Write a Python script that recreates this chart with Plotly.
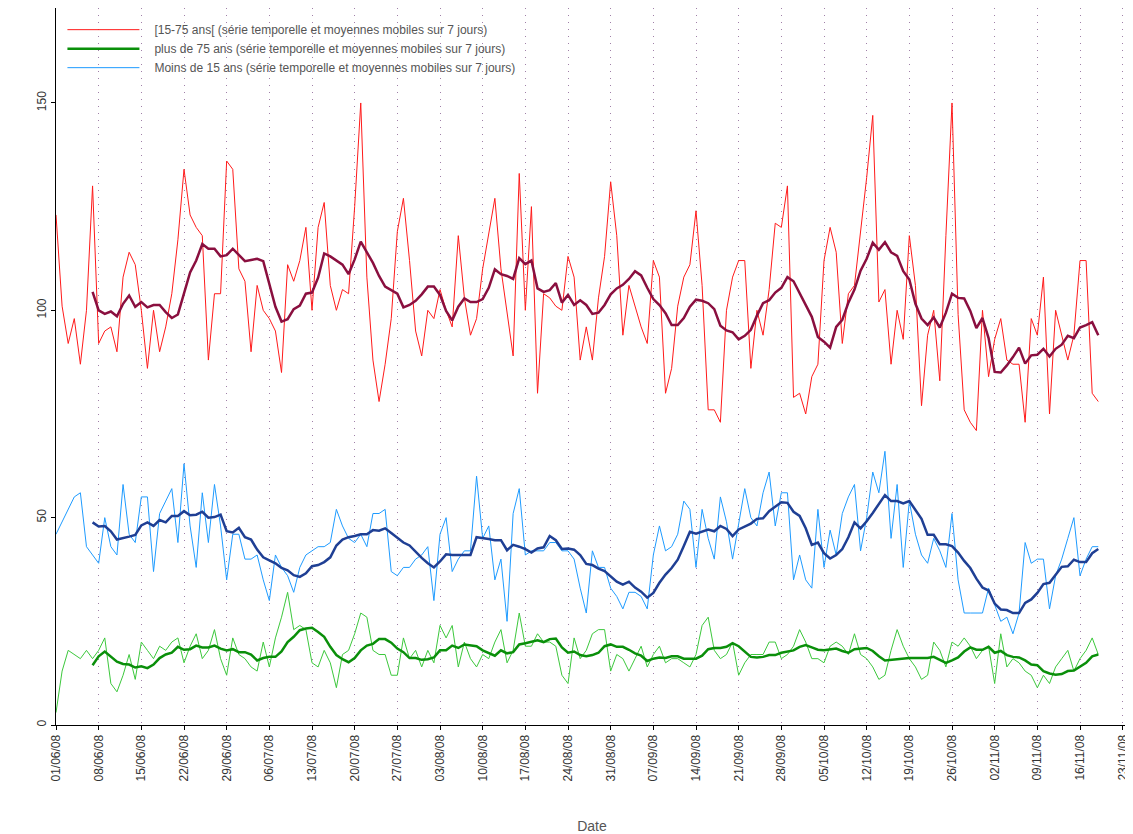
import plotly.graph_objects as go
import pandas as pd

# daily counts, 01/06/08 -> 19/11/08
ages_15_75 = [
    123, 101, 92, 98, 87, 100, 130, 92, 95, 96, 90, 108, 114, 111, 100, 86, 100, 90, 96, 104,
    117, 134, 123, 120, 118, 88, 104, 104, 136, 134, 110, 107, 90, 106, 100, 98, 95, 85, 111, 107,
    112, 120, 100, 120, 126, 106, 100, 105, 104, 125, 150, 108, 88, 78, 87, 98, 119, 127, 112, 95,
    89, 100, 98, 105, 100, 96, 118, 103, 94, 98, 110, 119, 127, 110, 100, 89, 133, 100, 125, 80,
    104, 103, 101, 100, 113, 108, 88, 96, 88, 103, 113, 131, 118, 94, 106, 101, 96, 92, 112, 108,
    80, 86, 101, 108, 111, 124, 106, 76, 76, 73, 100, 108, 112, 112, 86, 100, 94, 105, 121, 120,
    130, 79, 80, 75, 84, 87, 112, 120, 114, 92, 104, 106, 119, 132, 147, 102, 105, 87, 100, 93,
    118, 106, 77, 94, 100, 83, 118, 150, 99, 76, 73, 71, 100, 84, 93, 98, 88, 87, 87, 73,
    98, 94, 108, 75, 100, 94, 88, 94, 112, 112, 80, 78,
]

plus_75 = [
    3, 13, 18, 17, 16, 18, 16, 18, 21, 10, 8, 12, 17, 11, 20, 18, 16, 19, 18, 20,
    21, 15, 19, 22, 16, 18, 23, 16, 12, 21, 17, 16, 14, 13, 20, 14, 21, 26, 32, 23,
    24, 23, 15, 14, 18, 15, 9, 17, 18, 22, 27, 26, 18, 17, 17, 12, 12, 21, 16, 18,
    14, 18, 15, 24, 21, 24, 14, 20, 16, 14, 17, 16, 20, 23, 15, 18, 27, 19, 19, 22,
    20, 20, 19, 12, 10, 21, 16, 18, 22, 23, 23, 13, 17, 16, 13, 16, 19, 14, 17, 19,
    15, 16, 16, 15, 14, 17, 24, 26, 18, 16, 17, 20, 12, 15, 17, 17, 17, 20, 20, 16,
    17, 19, 23, 20, 16, 16, 15, 19, 20, 19, 17, 22, 17, 16, 14, 11, 12, 18, 23, 19,
    16, 14, 11, 12, 20, 18, 14, 20, 19, 21, 19, 16, 18, 19, 10, 22, 14, 16, 15, 13,
    12, 9, 12, 10, 14, 16, 18, 13, 16, 18, 21, 17,
]

moins_15 = [
    46, 49, 52, 55, 56, 43, 41, 39, 50, 43, 41, 58, 46, 44, 55, 55, 37, 51, 54, 57,
    44, 63, 48, 38, 56, 44, 58, 48, 35, 46, 46, 40, 40, 41, 35, 30, 41, 38, 36, 32,
    38, 41, 42, 43, 43, 44, 52, 48, 45, 44, 46, 43, 51, 51, 52, 37, 36, 38, 38, 40,
    41, 43, 30, 46, 50, 37, 40, 42, 42, 60, 45, 48, 35, 40, 25, 51, 57, 41, 42, 42,
    42, 44, 44, 42, 42, 40, 33, 27, 42, 38, 38, 33, 31, 28, 32, 32, 31, 28, 41, 48,
    42, 43, 46, 54, 52, 38, 52, 45, 40, 55, 49, 40, 49, 57, 50, 48, 56, 61, 48, 56,
    56, 35, 41, 35, 33, 52, 38, 47, 41, 51, 55, 58, 42, 50, 61, 56, 66, 45, 58, 38,
    54, 46, 41, 39, 45, 42, 38, 51, 35, 27, 27, 27, 27, 33, 29, 25, 26, 22, 27, 44,
    39, 40, 40, 28, 36, 40, 45, 50, 36, 40, 43, 43,
]

week_ticks = pd.date_range("2008-06-01", "2008-11-23", freq="7D")

df = pd.DataFrame({
    "date": pd.date_range("2008-06-01", periods=len(ages_15_75), freq="D"),
    "a15_75": ages_15_75,
    "p75": plus_75,
    "m15": moins_15,
})

# trailing 7 day moving averages
for col in ["a15_75", "p75", "m15"]:
    df[col + "_ma"] = df[col].rolling(7).mean()

label = " (série temporelle et moyennes mobiles sur 7 jours)"
pad = "\u00a0" * 3

series = [
    ("a15_75", "[15-75 ans[" + label, "#ff1a1a", "#8a0f3f"),
    ("p75", "plus de 75 ans" + label, "#3cc83c", "#0a8f0a"),
    ("m15", "Moins de 15 ans" + label, "#1e9bff", "#1f3f94"),
]

fig = go.Figure()

for i, (col, name, raw_col, ma_col) in enumerate(series):
    # green shows its thick line in the legend, the others the thin one
    fig.add_trace(go.Scatter(
        x=df["date"], y=df[col], mode="lines",
        line=dict(color=raw_col, width=1),
        name=pad + name, legendgroup=col, legendrank=i + 1,
        showlegend=(col != "p75"),
    ))
    fig.add_trace(go.Scatter(
        x=df["date"], y=df[col + "_ma"], mode="lines",
        line=dict(color=ma_col, width=2.5),
        name=pad + name, legendgroup=col, legendrank=i + 1,
        showlegend=(col == "p75"),
    ))

fig.update_layout(
    width=1125, height=826,
    margin=dict(l=48, r=5, t=0, b=109),
    plot_bgcolor="white", paper_bgcolor="white",
    font=dict(family="Liberation Sans, Arial, sans-serif", size=12, color="#333333"),
    legend=dict(
        x=0.006, y=0.99, xanchor="left", yanchor="top",
        bgcolor="rgba(255,255,255,0)", itemwidth=72,
        font=dict(size=12, color="#555555"),
        tracegroupgap=0,
    ),
)

fig.update_xaxes(
    range=["2008-06-01", "2008-11-23 21:00"],
    tickvals=week_ticks, tickformat="%d/%m/%y", tickangle=-90,
    ticks="outside", ticklen=4, tickcolor="black", ticklabeloverflow="allow",
    showline=True, linecolor="black", linewidth=1, mirror=True,
    showgrid=True, gridcolor="#a080a8", griddash="1px,6px", gridwidth=1,
    title=dict(text="Date", standoff=40, font=dict(size=14, color="#555555")),
)

fig.update_yaxes(
    range=[0, 172.9],
    tickvals=[0, 50, 100, 150], tickangle=-90,
    ticks="outside", ticklen=4, tickcolor="black",
    showline=True, linecolor="black", linewidth=1, mirror=True,
    showgrid=False, zeroline=False,
)

fig.write_html("out.html")
